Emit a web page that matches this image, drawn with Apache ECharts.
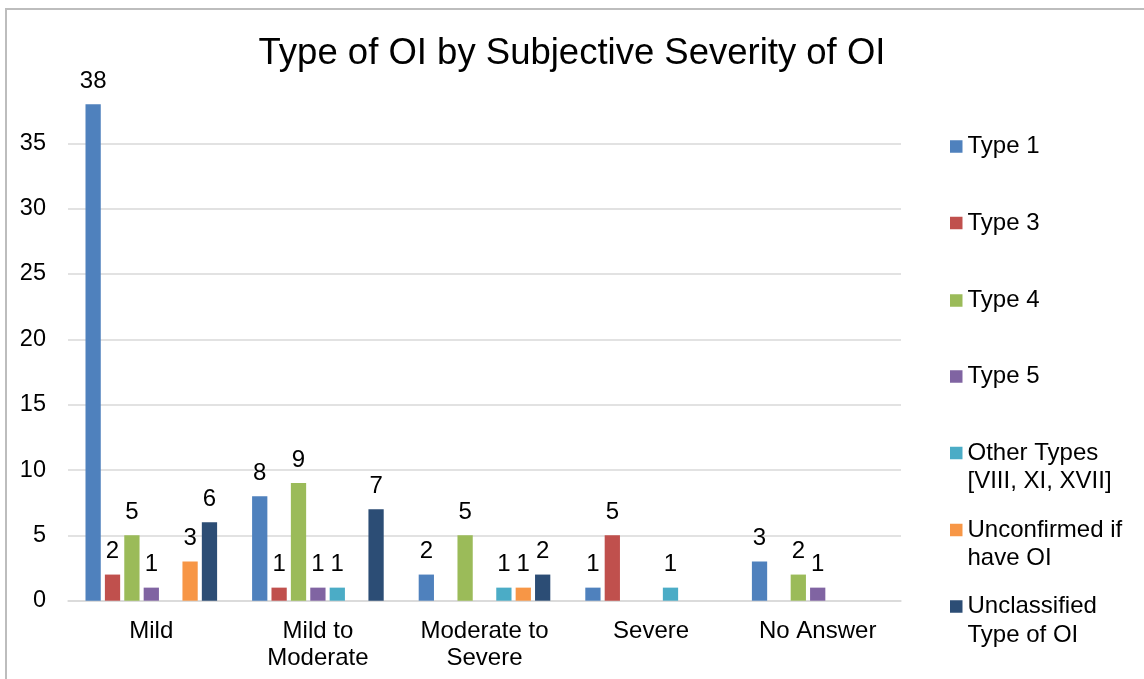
<!DOCTYPE html>
<html>
<head>
<meta charset="utf-8">
<script src="https://cdn.jsdelivr.net/npm/echarts@6/dist/echarts.min.js"></script>
<style>html,body{margin:0;padding:0;background:#fff}#c{width:1144px;height:679px}</style>
</head>
<body>
<div id="c"></div>
<script>
const categories = ['Mild', 'Mild to\nModerate', 'Moderate to\nSevere', 'Severe', 'No Answer'];
const seriesNames = ['Type 1', 'Type 3', 'Type 4', 'Type 5', 'Other Types [VIII, XI, XVII]', 'Unconfirmed if have OI', 'Unclassified Type of OI'];
const legendLabels = ['Type 1', 'Type 3', 'Type 4', 'Type 5', '\nOther Types\n[VIII, XI, XVII]', '\nUnconfirmed if\nhave OI', '\nUnclassified\nType of OI'];
const type1 = [38, 8, 2, 1, 3];
const type3 = [2, 1, null, 5, null];
const type4 = [5, 9, 5, null, 2];
const type5 = [1, 1, null, null, 1];
const otherTypes = [null, 1, 1, 1, null];
const unconfirmed = [3, null, 1, null, null];
const unclassified = [6, 7, 2, null, null];
const seriesValues = [type1, type3, type4, type5, otherTypes, unconfirmed, unclassified];
const colors = ['#4f81bd', '#c0504d', '#9bbb59', '#8064a2', '#4bacc6', '#f79646', '#2c4d75'];
const yTicks = [0, 5, 10, 15, 20, 25, 30, 35, 40];

const FONT = '"Liberation Sans", Arial, sans-serif';
const legendIconCenters = [145.5, 222, 299.5, 375.5, 452, 529, 605.5];
const LH = 28.5;

const chart = echarts.init(document.getElementById('c'), null, {renderer: 'canvas'});
const legends = seriesNames.map((n, i) => {
  const lines = legendLabels[i].split('\n').length;
  return {
    data: [n],
    orient: 'vertical',
    left: 950,
    top: legendIconCenters[i] - lines * LH / 2 + 1,
    padding: 0,
    itemWidth: 12.5,
    itemHeight: 12.5,
    itemGap: 5,
    icon: 'rect',
    formatter: () => legendLabels[i],
    textStyle: {fontFamily: FONT, fontSize: 24, color: '#000', lineHeight: LH}
  };
});

chart.setOption({
  animation: false,
  backgroundColor: '#fff',
  color: colors,
  title: {
    text: 'Type of OI by Subjective Severity of OI',
    left: 'center',
    top: 35,
    padding: 0,
    textStyle: {fontFamily: FONT, fontSize: 36.5, fontWeight: 'normal', color: '#000'}
  },
  graphic: [{
    type: 'rect',
    shape: {x: 6, y: 9, width: 1400, height: 1000},
    style: {fill: 'none', stroke: '#bdbdbd', lineWidth: 2},
    silent: true
  }],
  legend: legends,
  grid: {left: 68, right: 243, top: 78, bottom: 78.3, containLabel: false},
  xAxis: {
    type: 'category',
    data: categories,
    axisTick: {show: false},
    axisLine: {lineStyle: {color: '#d9d9d9', width: 1.5}},
    axisLabel: {interval: 0, margin: 17, fontFamily: FONT, fontSize: 24, color: '#000', lineHeight: 27}
  },
  yAxis: {
    type: 'value',
    min: yTicks[0],
    max: yTicks[yTicks.length - 1],
    interval: 5,
    axisLine: {show: false},
    axisTick: {show: false},
    splitLine: {show: true, showMaxLine: false, lineStyle: {color: '#d9d9d9', width: 1.5}},
    axisLabel: {showMaxLabel: false, margin: 22, fontFamily: FONT, fontSize: 23.5, color: '#000'}
  },
  series: seriesNames.map((n, i) => ({
    name: n,
    type: 'bar',
    data: seriesValues[i],
    barCategoryGap: '21%',
    barGap: '27%',
    itemStyle: {color: colors[i]},
    label: {show: true, position: 'top', distance: 11, fontFamily: FONT, fontSize: 24, color: '#000'}
  }))
});
</script>
</body>
</html>
